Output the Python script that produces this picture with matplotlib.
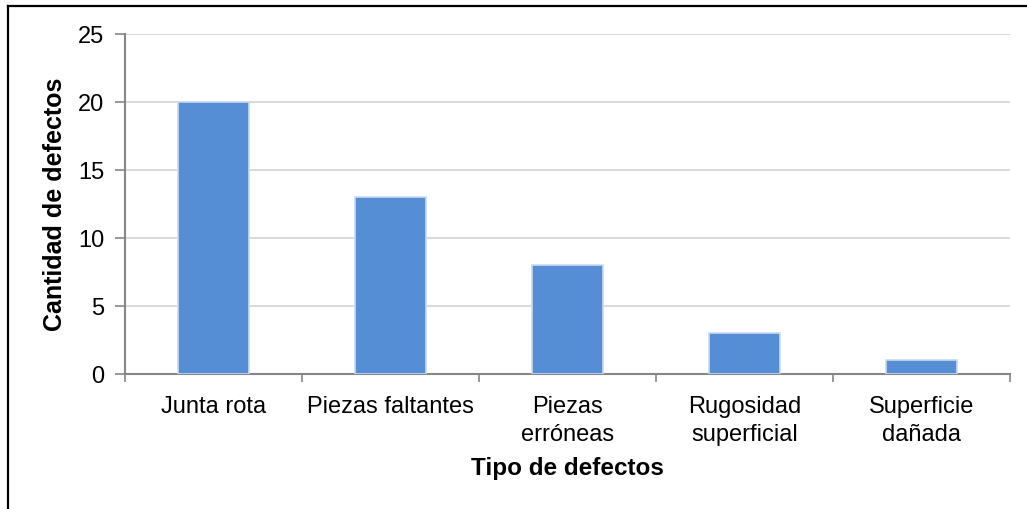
import matplotlib
matplotlib.use("Agg")
import matplotlib.pyplot as plt
from matplotlib.lines import Line2D
import numpy as np

plt.rcParams['font.family'] = ['Liberation Sans', 'DejaVu Sans']

categorias = ["Junta rota", "Piezas faltantes", "Piezas\nerróneas",
              "Rugosidad\nsuperficial", "Superficie\ndañada"]
cantidades = [20, 13, 8, 3, 1]
y_ticks = [0, 5, 10, 15, 20, 25]

fig = plt.figure(figsize=(10.27, 5.10), dpi=100)
ax = fig.add_axes([125/1027, 135.5/510, 885/1027, 339.5/510])

x = np.arange(len(categorias))
ax.bar(x, cantidades, width=0.40, color="#558ED5", edgecolor="#C9DAF0",
       linewidth=1.2, zorder=3)

ax.set_xlim(-0.5, len(categorias) - 0.5)
ax.set_ylim(0, 25)
ax.set_yticks(y_ticks)
ax.yaxis.grid(True, color="#D9D9D9", linewidth=1.4, zorder=0)
ax.set_axisbelow(True)

# category ticks sit on the boundaries between bars
ax.set_xticks(np.arange(-0.5, len(categorias), 1.0))
ax.set_xticklabels([])
ax.set_xticks(x, minor=True)
ax.set_xticklabels(categorias, minor=True, fontsize=17, linespacing=1.33)
ax.tick_params(axis="x", which="minor", length=0, pad=15.5)
ax.tick_params(axis="x", which="major", length=6, width=1.2, color="#868686",
               direction="out")
ax.tick_params(axis="y", length=7, width=1.2, color="#868686", labelsize=17,
               pad=8)

for side in ("top", "right"):
    ax.spines[side].set_visible(False)
for side in ("left", "bottom"):
    ax.spines[side].set_color("#868686")
    ax.spines[side].set_linewidth(1.5)

ax.set_xlabel("Tipo de defectos", fontsize=17.5, fontweight="bold", labelpad=8)
ax.set_ylabel("Cantidad de defectos", fontsize=18, fontweight="bold",
              labelpad=8)

# outer frame of the chart area
fig.add_artist(Line2D([8/1027, 8/1027], [0, 1 - 7/510], transform=fig.transFigure,
                      color="black", linewidth=1.6))
fig.add_artist(Line2D([8/1027, 1], [1 - 7/510, 1 - 7/510], transform=fig.transFigure,
                      color="black", linewidth=1.6))

fig.savefig("out.png", dpi=100)
